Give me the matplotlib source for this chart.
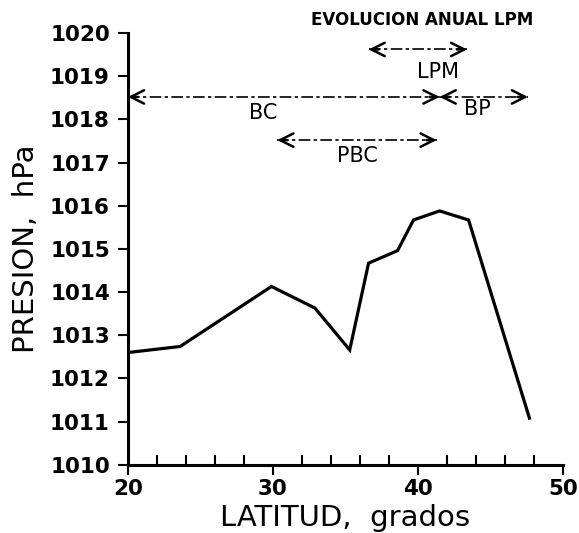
import matplotlib.pyplot as plt
from matplotlib.ticker import MultipleLocator

# pressure profile vs latitude
latitud = [20, 23.6, 29.9, 32.9, 35.3, 36.6, 38.6, 39.7, 41.5, 43.5, 47.7]
presion = [1012.6, 1012.74, 1014.13, 1013.63, 1012.66, 1014.67, 1014.96, 1015.67, 1015.88, 1015.67, 1011.08]

# annotation ranges (label, latitude start, end, pressure level, label x, label y)
rangos = [
    ("BC", 20.0, 41.5, 1018.52, 29.3, 1018.15),
    ("BP", 41.5, 47.6, 1018.52, 44.1, 1018.25),
    ("PBC", 30.3, 41.3, 1017.52, 35.8, 1017.15),
    ("LPM", 36.6, 43.4, 1019.62, 41.4, 1019.1),
]
titulo_anual = "EVOLUCION ANUAL LPM"

fig = plt.figure(figsize=(5.79, 5.33), dpi=100)
ax = fig.add_axes([0.221, 0.128, 0.751, 0.81])

ax.plot(latitud, presion, color='black', lw=2.3, solid_joinstyle='miter')

for nombre, x0, x1, y, tx, ty in rangos:
    ax.plot([x0, x1], [y, y], color='black', lw=1.2, linestyle=(0, (7, 2, 2, 2)),
            clip_on=False)
    for tip, d in [(x0, 0.7), (x1, -0.7)]:
        ax.annotate('', xy=(tip, y), xytext=(tip + d, y),
                    arrowprops=dict(arrowstyle='->', lw=1.8, color='black',
                                    mutation_scale=24, shrinkA=0, shrinkB=0),
                    annotation_clip=False)
    ax.text(tx, ty, nombre, fontsize=15, ha='center', va='center')

ax.text(40.3, 1020.3, titulo_anual, fontsize=12, fontweight='bold',
        ha='center', va='center')

ax.set_xlim(20, 50)
ax.set_ylim(1010, 1020)
ax.xaxis.set_major_locator(MultipleLocator(10))
ax.xaxis.set_minor_locator(MultipleLocator(2))
ax.yaxis.set_major_locator(MultipleLocator(1))

for s in ['top', 'right']:
    ax.spines[s].set_visible(False)
for s in ['left', 'bottom']:
    ax.spines[s].set_linewidth(2.2)

ax.tick_params(axis='y', direction='out', length=7, width=1.5, labelsize=15.5, pad=6)
ax.tick_params(axis='x', which='major', direction='out', length=7, width=1.5,
               labelsize=15.5, pad=3)
ax.tick_params(axis='x', which='minor', direction='in', length=7, width=1.5)
for lbl in ax.get_xticklabels() + ax.get_yticklabels():
    lbl.set_fontweight('bold')

ax.set_xlabel('LATITUD,  grados', fontsize=21, labelpad=4)
ax.set_ylabel('PRESION,  hPa', fontsize=21, labelpad=7)

fig.savefig('out.png', dpi=100)
